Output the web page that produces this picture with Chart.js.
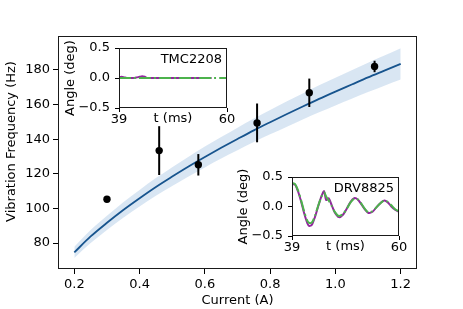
<!DOCTYPE html>
<html><head><meta charset="utf-8">
<script src="https://cdn.jsdelivr.net/npm/chart.js@4"></script>
<style>
html,body{margin:0;padding:0;background:#fff;}
#wrap{position:relative;width:463px;height:309px;background:#fff;}
canvas{position:absolute;left:0;top:0;width:463px;height:309px;}
</style></head><body>
<div id="wrap">
<canvas id="main" width="463" height="309"></canvas>
<canvas id="tmc" width="463" height="309"></canvas>
<canvas id="drv" width="463" height="309"></canvas>
</div>
<script>
// ---- data ----
const currents = [0.30, 0.46, 0.58, 0.76, 0.92, 1.12];
const frequencies = [105.3, 133.4, 125.2, 149.4, 166.8, 182.0];
const frequencyErrors = [1.0, 14.1, 6.2, 11.2, 8.2, 3.3];

const fitCurrents = [0.20,0.25,0.30,0.35,0.40,0.45,0.50,0.55,0.60,0.65,0.70,0.75,0.80,0.85,0.90,0.95,1.00,1.05,1.10,1.15,1.20];
const fitFrequencies = [74.6,83.8,91.7,99.1,105.9,112.4,118.4,124.2,129.7,135.0,140.1,145.1,149.8,154.4,158.9,163.3,167.5,171.6,175.7,179.6,183.5];
const fitLower = [71.4,80.0,87.6,94.6,101.1,107.3,113.0,118.5,123.7,128.8,133.6,138.3,142.8,147.1,151.4,155.5,159.5,163.4,167.2,170.9,174.5];
const fitUpper = [77.9,87.6,95.8,103.6,110.7,117.5,123.8,129.9,135.7,141.2,146.6,151.9,156.8,161.7,166.4,171.1,175.5,179.8,184.2,188.3,192.5];

const currentTicks = [0.2, 0.4, 0.6, 0.8, 1.0, 1.2];
const frequencyTicks = [80, 100, 120, 140, 160, 180];
const timeTicks = [39, 60];
const angleTicks = [-0.5, 0.0, 0.5];

const tmcTimes = [39,39.5,40,40.5,41,42,42.5,43,43.5,44,44.5,45,46,47,48,49,50,51,52,53,54,55,56,57];
const tmcMeasured = [0.01,0.02,0.01,0.0,0.0,0.0,0.01,0.02,0.03,0.02,0.0,0.0,0.0,0.0,0.0,0.0,0.0,0.0,0.0,0.0,0.0,0.0,0.0,0.0];
const tmcModelTimes = [39, 60];
const tmcModel = [0.0, 0.0];

const drvTimes = [39,39.6,40.2,40.8,41.4,42.0,42.4,42.9,43.5,44.2,44.8,45.3,45.7,46.2,46.8,47.4,48.2,49.0,49.8,50.5,51.2,51.9,52.6,53.3,54.0,54.8,55.6,56.4,57.1,57.8,58.5,59.3,60];
const drvMeasured = [0.38,0.37,0.25,0.08,-0.12,-0.28,-0.33,-0.31,-0.18,0.02,0.18,0.26,0.11,0.14,0.02,-0.10,-0.18,-0.14,-0.03,0.08,0.14,0.12,0.04,-0.05,-0.11,-0.09,-0.01,0.06,0.10,0.07,0.00,-0.06,-0.09];
const drvModel = [0.40,0.38,0.27,0.10,-0.09,-0.24,-0.28,-0.27,-0.16,0.03,0.17,0.24,0.17,0.10,0.01,-0.09,-0.16,-0.13,-0.03,0.07,0.13,0.12,0.05,-0.04,-0.10,-0.08,-0.01,0.06,0.10,0.08,0.02,-0.05,-0.08];

// ---- styling ----
const FONT = {family: "'DejaVu Sans', sans-serif", size: 13, lineHeight: 1.2};
const FONT_CSS = "13px 'DejaVu Sans', sans-serif";
const INK = '#000';
const PURPLE = '#93289e';
const GREEN = '#4cb24c';
const FIT_BLUE = '#17548e';
const BAND = 'rgba(160,192,226,0.4)';

const pts = (xs, ys) => xs.map((x, i) => ({x, y: ys[i]}));
const fmtMinus = v => (Math.abs(v) < 1e-9 ? 0 : v).toFixed(1).replace('-', '\u2212');

const framePlugin = {
  id: 'frame',
  beforeDraw(chart, args, opts) {
    if (opts && opts.fill) {
      const a = chart.chartArea, c = chart.ctx;
      c.save(); c.fillStyle = opts.fill;
      c.fillRect(a.left, a.top, a.right - a.left, a.bottom - a.top);
      c.restore();
    }
  },
  afterDraw(chart, args, opts) {
    const a = chart.chartArea, c = chart.ctx;
    c.save();
    c.strokeStyle = '#1a1a1a'; c.lineWidth = 1;
    c.strokeRect(Math.round(a.left) + 0.5, Math.round(a.top) + 0.5,
                 Math.round(a.right - a.left) - 1, Math.round(a.bottom - a.top) - 1);
    c.font = FONT_CSS; c.fillStyle = INK;
    if (opts && opts.label) {
      c.textAlign = 'right'; c.textBaseline = 'alphabetic';
      c.fillText(opts.label, a.right - 5, a.top + 15);
    }
    if (opts && opts.yTitle) {
      c.save();
      c.translate(opts.yTitle.x, opts.yTitle.y);
      c.rotate(-Math.PI / 2);
      c.textAlign = 'center'; c.textBaseline = 'middle';
      c.fillText(opts.yTitle.text, 0, 0);
      c.restore();
    }
    c.restore();
  }
};

function axis(o) {
  return {
    type: 'linear', min: o.min, max: o.max,
    afterBuildTicks: s => { s.ticks = o.ticks.map(v => ({value: v})); },
    afterFit: s => { if (o.w !== undefined) s.width = o.w; if (o.h !== undefined) s.height = o.h; },
    grid: {drawOnChartArea: false, drawTicks: true, tickLength: o.tl, color: INK, lineWidth: 1},
    border: {display: false},
    ticks: {font: FONT, color: INK, padding: o.pad, maxRotation: 0, minRotation: 0, autoSkip: false, callback: o.fmt},
    title: {display: !!o.title, text: o.title || '', font: FONT, color: INK, padding: o.tpad || 0}
  };
}

// ---- main chart ----
const datasets = [];
datasets.push({type: 'line', data: pts(currents, frequencies), showLine: false, pointRadius: 3.7,
  pointBackgroundColor: INK, pointBorderWidth: 0, order: 0});
currents.forEach((c, i) => {
  datasets.push({type: 'line', data: [{x: c, y: frequencies[i] - frequencyErrors[i]}, {x: c, y: frequencies[i] + frequencyErrors[i]}],
    borderColor: INK, borderWidth: 2, pointRadius: 0, order: 1});
});
datasets.push({type: 'line', data: pts(fitCurrents, fitFrequencies), borderColor: FIT_BLUE, borderWidth: 1.8,
  pointRadius: 0, cubicInterpolationMode: 'monotone', order: 2});
datasets.push({type: 'line', data: pts(fitCurrents, fitUpper), borderWidth: 0, borderColor: 'rgba(0,0,0,0)',
  pointRadius: 0, fill: false, cubicInterpolationMode: 'monotone', order: 3});
datasets.push({type: 'line', data: pts(fitCurrents, fitLower), borderWidth: 0, borderColor: 'rgba(0,0,0,0)',
  pointRadius: 0, fill: '-1', backgroundColor: BAND, cubicInterpolationMode: 'monotone', order: 3});

new Chart(document.getElementById('main'), {
  type: 'line',
  data: {datasets},
  options: {
    responsive: false, animation: false, devicePixelRatio: 1,
    layout: {padding: {left: 0, top: 36, right: 46, bottom: 0}},
    plugins: {legend: {display: false}, tooltip: {enabled: false},
      frame: {yTitle: {text: 'Vibration Frequency (Hz)', x: 12, y: 141.5}}},
    scales: {
      x: axis({min: 0.15, max: 1.25, ticks: currentTicks, h: 40, tl: 5, pad: 3,
        fmt: v => Number(v).toFixed(1), title: 'Current (A)', tpad: {top: 0, bottom: 1}}),
      y: axis({min: 65.0, max: 199.6, ticks: frequencyTicks, w: 58, tl: 5, pad: 3,
        fmt: v => String(Math.round(v))})
    }
  },
  plugins: [framePlugin]
});

// ---- insets ----
function inset(id, area, label, measT, meas, modT, mod) {
  new Chart(document.getElementById(id), {
    type: 'line',
    data: {datasets: [
      {data: pts(modT, mod), borderColor: GREEN, borderWidth: 2, borderDash: [12, 3, 2, 3],
        pointRadius: 0, tension: 0.25, order: 0},
      {data: pts(measT, meas), borderColor: PURPLE, borderWidth: 2, pointRadius: 0, tension: 0.25, order: 1}
    ]},
    options: {
      responsive: false, animation: false, devicePixelRatio: 1,
      layout: {padding: {left: area.left - 60, top: area.top, right: 463 - area.right, bottom: 309 - area.bottom - 20}},
      plugins: {legend: {display: false}, tooltip: {enabled: false}, frame: {fill: '#fff', label}},
      scales: {
        x: axis({min: 39, max: 60, ticks: timeTicks, h: 20, tl: 4, pad: 0,
          fmt: v => String(Math.round(v)), title: 't (ms)', tpad: {top: 0, bottom: 1.5}}),
        y: axis({min: -0.5, max: 0.5, ticks: angleTicks, w: 60, tl: 4, pad: 5,
          fmt: fmtMinus, title: 'Angle (deg)', tpad: {top: 4, bottom: 0}})
      }
    },
    plugins: [framePlugin]
  });
}
inset('tmc', {left: 119, top: 48, right: 227, bottom: 108}, 'TMC2208', tmcTimes, tmcMeasured, tmcModelTimes, tmcModel);
inset('drv', {left: 292, top: 177, right: 399, bottom: 236}, 'DRV8825', drvTimes, drvMeasured, drvTimes, drvModel);
</script>
</body></html>
